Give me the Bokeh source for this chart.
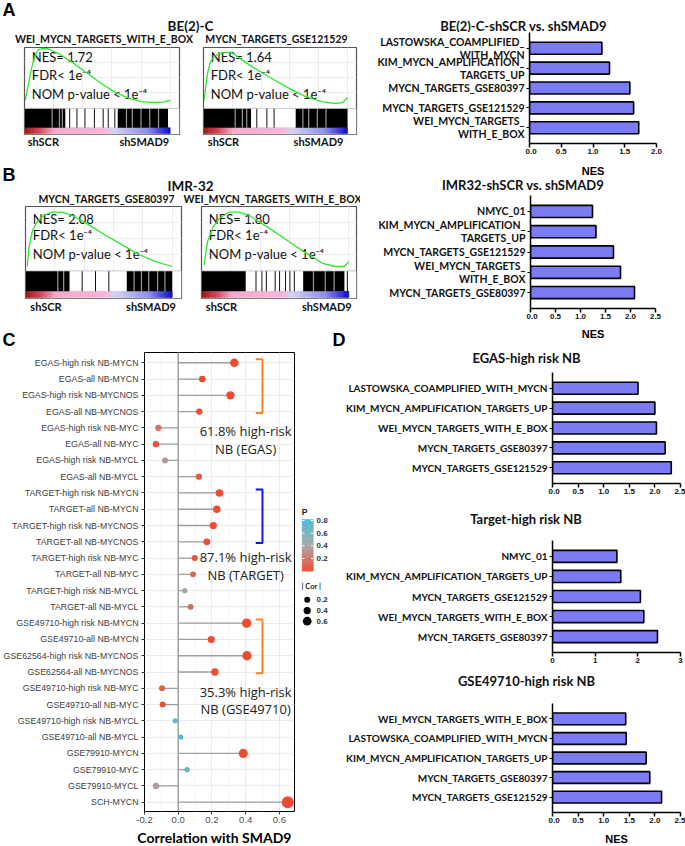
from bokeh.plotting import figure
from bokeh.layouts import row, column
from bokeh.models import (Range1d, FactorRange, FixedTicker, NumeralTickFormatter,
                          LinearColorMapper, ColumnDataSource, Span, LinearInterpolator, Grid)
from bokeh.transform import transform
from bokeh.core.properties import value
from bokeh.embed import file_html
from bokeh.resources import INLINE

# ======================= DATA =======================
PHENO = ["shSCR", "shSMAD9"]

# ---- Panel A : BE(2)-C GSEA ----
A_cell = "BE(2)-C"
A1_set = "WEI_MYCN_TARGETS_WITH_E_BOX"
A1_nes = "1.72"
A1_rank = [0.005, 0.027, 0.05, 0.074, 0.096, 0.13, 0.164, 0.233, 0.324, 0.416, 0.53, 0.621, 0.712, 0.804, 0.895, 0.964, 1.0]
A1_es = [0.05, 0.27, 0.49, 0.66, 0.72, 0.74, 0.73, 0.67, 0.56, 0.43, 0.27, 0.16, 0.08, 0.035, 0.02, 0.03, 0.055]
A1_dense = [(0.0, 0.28), (0.64, 0.985)]
A1_hits = [0.31, 0.36, 0.415, 0.48, 0.54, 0.575, 0.62]
A1_soft = [0.19, 0.24, 0.26, 0.70, 0.74, 0.80, 0.86, 0.92]

A2_set = "MYCN_TARGETS_GSE121529"
A2_nes = "1.64"
A2_rank = [0.004, 0.028, 0.051, 0.086, 0.132, 0.19, 0.317, 0.456, 0.594, 0.71, 0.826, 0.919, 0.965, 1.0]
A2_es = [0.05, 0.41, 0.58, 0.65, 0.68, 0.69, 0.52, 0.36, 0.21, 0.10, 0.03, 0.01, 0.02, 0.09]
A2_dense = [(0.0, 0.33), (0.64, 1.0)]
A2_hits = [0.37, 0.44, 0.49]
A2_soft = [0.22, 0.27, 0.30, 0.69, 0.73, 0.79, 0.85]

A_bar_title = "BE(2)-C-shSCR vs. shSMAD9"
A_bar_sets = ["LASTOWSKA_COAMPLIFIED_\nWITH_MYCN", "KIM_MYCN_AMPLIFICATION_\nTARGETS_UP",
              "MYCN_TARGETS_GSE80397", "MYCN_TARGETS_GSE121529", "WEI_MYCN_TARGETS_\nWITH_E_BOX"]
A_bar_nes = [1.14, 1.26, 1.58, 1.64, 1.72]
A_ticks = [0.0, 0.5, 1.0, 1.5, 2.0]

# ---- Panel B : IMR-32 GSEA ----
B_cell = "IMR-32"
B1_set = "MYCN_TARGETS_GSE80397"
B1_nes = "2.08"
B1_rank = [0.012, 0.023, 0.046, 0.08, 0.125, 0.182, 0.25, 0.318, 0.432, 0.545, 0.659, 0.773, 0.886, 1.0]
B1_es = [0.0, 0.23, 0.44, 0.56, 0.64, 0.68, 0.68, 0.64, 0.52, 0.39, 0.27, 0.15, 0.06, 0.0]
B1_dense = [(0.0, 0.30), (0.69, 1.0)]
B1_hits = [0.386, 0.477, 0.568]
B1_soft = [0.22, 0.26, 0.74, 0.79, 0.84, 0.90, 0.95]

B2_set = "WEI_MYCN_TARGETS_WITH_E_BOX"
B2_nes = "1.80"
B2_rank = [0.018, 0.041, 0.075, 0.12, 0.188, 0.256, 0.323, 0.459, 0.595, 0.708, 0.821, 0.911, 0.968, 1.0]
B2_es = [0.02, 0.31, 0.48, 0.60, 0.68, 0.68, 0.64, 0.48, 0.31, 0.17, 0.04, 0.0, 0.0, 0.06]
B2_dense = [(0.0, 0.30), (0.69, 0.97)]
B2_hits = [0.37, 0.41, 0.44, 0.50, 0.53, 0.57, 0.60, 0.63, 0.99]
B2_soft = [0.76, 0.84, 0.90]

B_bar_title = "IMR32-shSCR vs. shSMAD9"
B_bar_sets = ["NMYC_01", "KIM_MYCN_AMPLIFICATION_\nTARGETS_UP", "MYCN_TARGETS_GSE121529",
              "WEI_MYCN_TARGETS_\nWITH_E_BOX", "MYCN_TARGETS_GSE80397"]
B_bar_nes = [1.24, 1.31, 1.66, 1.80, 2.08]
B_ticks = [0.0, 0.5, 1.0, 1.5, 2.0, 2.5]

# ---- Panel C : correlation with SMAD9 ----
C_labels = ["EGAS-high risk NB-MYCN", "EGAS-all NB-MYCN", "EGAS-high risk NB-MYCNOS", "EGAS-all NB-MYCNOS",
            "EGAS-high risk NB-MYC", "EGAS-all NB-MYC", "EGAS-high risk NB-MYCL", "EGAS-all NB-MYCL",
            "TARGET-high risk NB-MYCN", "TARGET-all NB-MYCN", "TARGET-high risk NB-MYCNOS", "TARGET-all NB-MYCNOS",
            "TARGET-high risk NB-MYC", "TARGET-all NB-MYC", "TARGET-high risk NB-MYCL", "TARGET-all NB-MYCL",
            "GSE49710-high risk NB-MYCN", "GSE49710-all NB-MYCN", "GSE62564-high risk NB-MYCNOS", "GSE62564-all NB-MYCNOS",
            "GSE49710-high risk NB-MYC", "GSE49710-all NB-MYC", "GSE49710-high risk NB-MYCL", "GSE49710-all NB-MYCL",
            "GSE79910-MYCN", "GSE79910-MYC", "GSE79910-MYCL", "SCH-MYCN"]
C_cor = [0.333, 0.143, 0.31, 0.125, -0.118, -0.132, -0.078, 0.123,
         0.245, 0.229, 0.208, 0.17, 0.098, 0.088, 0.039, 0.074,
         0.406, 0.196, 0.408, 0.218, -0.096, -0.092, -0.018, 0.015,
         0.386, 0.053, -0.132, 0.65]
C_p = [0.00, 0.01, 0.00, 0.02, 0.17, 0.05, 0.34, 0.08,
       0.00, 0.00, 0.00, 0.00, 0.04, 0.12, 0.46, 0.18,
       0.00, 0.00, 0.00, 0.00, 0.10, 0.02, 0.72, 0.75,
       0.00, 0.70, 0.38, 0.00]
C_p_ticks = [0.2, 0.4, 0.6, 0.8]
C_cor_legend = [0.2, 0.4, 0.6]
C_x_ticks = [-0.2, 0.0, 0.2, 0.4, 0.6]
C_xlabel = "Correlation with SMAD9"
C_brackets = [(0, 3, "#F5832A"), (8, 11, "#1414EE"), (16, 19, "#F5832A")]
C_notes = [("61.8% high-risk", "NB (EGAS)", 4.17),
           ("87.1% high-risk", "NB (TARGET)", 11.95),
           ("35.3% high-risk", "NB (GSE49710)", 20.2)]

# ---- Panel D ----
D1_title = "EGAS-high risk NB"
D1_sets = ["LASTOWSKA_COAMPLIFIED_WITH_MYCN", "KIM_MYCN_AMPLIFICATION_TARGETS_UP",
           "WEI_MYCN_TARGETS_WITH_E_BOX", "MYCN_TARGETS_GSE80397", "MYCN_TARGETS_GSE121529"]
D1_nes = [1.67, 2.00, 2.03, 2.20, 2.32]
D2_title = "Target-high risk NB"
D2_sets = ["NMYC_01", "KIM_MYCN_AMPLIFICATION_TARGETS_UP", "MYCN_TARGETS_GSE121529",
           "WEI_MYCN_TARGETS_WITH_E_BOX", "MYCN_TARGETS_GSE80397"]
D2_nes = [1.51, 1.60, 2.06, 2.14, 2.46]
D3_title = "GSE49710-high risk NB"
D3_sets = ["WEI_MYCN_TARGETS_WITH_E_BOX", "LASTOWSKA_COAMPLIFIED_WITH_MYCN",
           "KIM_MYCN_AMPLIFICATION_TARGETS_UP", "MYCN_TARGETS_GSE80397", "MYCN_TARGETS_GSE121529"]
D3_nes = [1.43, 1.44, 1.83, 1.90, 2.13]
D_ticks_a = [0.0, 0.5, 1.0, 1.5, 2.0, 2.5]
D_ticks_b = [0, 1, 2, 3]
NES_LABEL = "NES"

# ======================= STYLE =======================
BAR_FILL = "#7B7BF4"
CURVE = "#2EE62E"
Y_LO, Y_HI = -0.40, 0.75
BAR_TOP, CB_TOP = -0.055, -0.31
RANK_STOPS = [(0.0, "#9E1616"), (0.10, "#D2455A"), (0.20, "#F2AACB"), (0.55, "#F5B6D6"),
              (0.62, "#D2D2F2"), (0.85, "#8C8CE6"), (0.95, "#3C3CD8"), (1.0, "#1010C0")]
P_STOPS = [(0.0, "#EE4B30"), (0.5, "#A9A6A8"), (1.0, "#4BBDD9")]
COMMON = dict(output_backend="svg", toolbar_location=None, frame_align=False)


def ramp(stops, n):
    def h2r(h):
        return [int(h[i:i + 2], 16) for i in (1, 3, 5)]
    out = []
    for k in range(n):
        t = k / (n - 1)
        for (t0, c0), (t1, c1) in zip(stops[:-1], stops[1:]):
            if t0 <= t <= t1:
                f = 0 if t1 == t0 else (t - t0) / (t1 - t0)
                a, b = h2r(c0), h2r(c1)
                out.append("#%02x%02x%02x" % tuple(int(round(a[i] + (b[i] - a[i]) * f)) for i in range(3)))
                break
    return out


RANK_COLORS = ramp(RANK_STOPS, 60)
P_PALETTE = ramp(P_STOPS, 64)
p_mapper = LinearColorMapper(palette=P_PALETTE, low=0.0, high=0.82)


def canvas(w, h):
    p = figure(width=w, height=h, x_range=Range1d(0, w), y_range=Range1d(h, 0), min_border=0,
               x_axis_type=None, y_axis_type=None, **COMMON)
    p.outline_line_color = None
    return p


def put(p, x, y, txt, size, font="Lato", bold=True, align="center", baseline="middle", color="#111111"):
    p.text(x=[x], y=[y], text=[txt], text_font=value(font), text_font_size=f"{size}px",
           text_font_style="bold" if bold else "normal", text_align=align, text_baseline=baseline,
           text_color=color)


def gsea_fig(w, h, left, right, xmax, rank, es, dense, hits, soft, nes, text_y):
    p = figure(width=w, height=h, x_range=Range1d(0, xmax), y_range=Range1d(Y_LO, Y_HI),
               min_border_left=left, min_border_right=right, min_border_top=1, min_border_bottom=1,
               x_axis_type=None, y_axis_type=None, **COMMON)
    p.outline_line_color = "#555555"
    p.outline_line_width = 1.2
    p.add_layout(Grid(dimension=0, ticker=FixedTicker(ticks=[0.2, 0.4, 0.6, 0.8, 1.0]), grid_line_color="#ececec"))
    p.add_layout(Grid(dimension=1, ticker=FixedTicker(ticks=[0.15, 0.35, 0.55]), grid_line_color="#ececec"))
    p.quad(left=[0], right=[xmax], bottom=[Y_LO], top=[BAR_TOP], fill_color="white", line_color=None)
    n = len(RANK_COLORS)
    p.quad(left=[i / n for i in range(n)], right=[(i + 1) / n for i in range(n)], top=CB_TOP, bottom=Y_LO + 0.012,
           fill_color=RANK_COLORS, line_color=RANK_COLORS, line_width=0.6)
    p.quad(left=[a for a, b in dense], right=[b for a, b in dense], top=BAR_TOP, bottom=CB_TOP,
           fill_color="black", line_color=None)
    p.segment(x0=hits, x1=hits, y0=BAR_TOP, y1=CB_TOP, line_color="#111111", line_width=1)
    p.segment(x0=soft, x1=soft, y0=BAR_TOP, y1=CB_TOP, line_color="#9a9a9a", line_width=1.2)
    p.segment(x0=[0], x1=[xmax], y0=[BAR_TOP], y1=[BAR_TOP], line_color="#bbbbbb", line_width=0.8)
    lines = [f"NES= {nes}", "FDR< 1e\u207b\u2074", "NOM p-value < 1e\u207b\u2074"]
    p.text(x=[0.05] * 3, y=text_y, text=lines, text_font=value("Lato"), text_font_size="13px",
           text_align="left", text_baseline="middle", text_color="#111111")
    p.line(rank, es, line_color=CURVE, line_width=1.3)
    return p


def bar_block(sets, vals, xmax, ticks, fmt, w, h, labw, right, bottom, lab_size):
    yr = FactorRange(factors=sets[::-1], range_padding=0.29, range_padding_units="absolute")
    # label strip sharing the categorical y scale of the bar chart
    lab = figure(width=labw, height=h, x_range=Range1d(0, labw), y_range=yr, min_border_left=0,
                 min_border_right=0, min_border_top=0, min_border_bottom=bottom,
                 x_axis_type=None, y_axis_type=None, **COMMON)
    lab.outline_line_color = None
    lab.text(x=[labw - 1] * len(sets), y=sets, text=sets, text_font=value("Lato"),
             text_font_size=f"{lab_size}px", text_font_style="bold", text_align="right",
             text_baseline="middle", text_line_height=1.1, text_color="#111111")
    p = figure(width=w - labw, height=h, y_range=yr, x_range=Range1d(0, xmax), min_border_left=4,
               min_border_right=right, min_border_top=0, min_border_bottom=bottom, **COMMON)
    p.hbar(y=sets, right=vals, left=0, height=0.6, fill_color=BAR_FILL, line_color="black", line_width=1.6)
    p.xgrid.visible = False
    p.ygrid.visible = False
    p.outline_line_color = None
    ax = p.xaxis[0]
    ax.ticker = FixedTicker(ticks=ticks)
    ax.formatter = NumeralTickFormatter(format=fmt)
    ax.axis_line_width = 1.5
    ax.major_tick_line_width = 1.5
    ax.major_tick_out = 4
    ax.major_tick_in = 0
    ax.minor_tick_line_color = None
    ax.major_label_text_font = "Liberation Sans"
    ax.major_label_text_font_style = "bold"
    ax.major_label_text_font_size = "8px"
    ax.major_label_standoff = 1
    ax.major_label_text_color = "#111111"
    ay = p.yaxis[0]
    ay.axis_line_width = 1.5
    ay.major_tick_line_width = 1.2
    ay.major_tick_out = 3
    ay.major_tick_in = 0
    ay.major_label_standoff = 0
    ay.major_label_text_font_size = "1px"
    ay.major_label_text_color = None
    return row(lab, p)


# ======================= TOP LEFT (A, B GSEA) =======================
TLW = 360
hdrA = canvas(TLW, 46)
put(hdrA, 2, -1, "A", 18, font="Liberation Sans", align="left", baseline="top", color="black")
put(hdrA, 190, 25, A_cell, 13.5)
put(hdrA, 103.5, 38.5, A1_set, 10.5)
put(hdrA, 276, 38.5, A2_set, 10.5)

gA1 = gsea_fig(190, 89, 24, 11, 1.064, A1_rank, A1_es, A1_dense, A1_hits, A1_soft, A1_nes, [0.62, 0.38, 0.14])
gA2 = gsea_fig(170, 89, 13, 4, 1.062, A2_rank, A2_es, A2_dense, A2_hits, A2_soft, A2_nes, [0.62, 0.38, 0.14])

hdrB = canvas(TLW, 70)
for xx, t in zip([42.8, 143.8, 223, 318], PHENO * 2):
    put(hdrB, xx, 6, t, 11)
put(hdrB, 2, 29, "B", 18, font="Liberation Sans", align="left", baseline="top", color="black")
put(hdrB, 190, 50, B_cell, 13.5)
put(hdrB, 106, 63.5, B1_set, 10.5)
put(hdrB, 272, 63.5, B2_set, 10.5)

gB1 = gsea_fig(190, 94, 25, 9, 1.063, B1_rank, B1_es, B1_dense, B1_hits, B1_soft, B1_nes, [0.60, 0.40, 0.16])
gB2 = gsea_fig(170, 94, 11, 4, 1.052, B2_rank, B2_es, B2_dense, B2_hits, B2_soft, B2_nes, [0.60, 0.40, 0.16])

hdrCa = canvas(TLW, 25)
for xx, t in zip([45.5, 150.5, 221, 326.3], PHENO * 2):
    put(hdrCa, xx, 7, t, 11)

top_left = column(hdrA, row(gA1, gA2), hdrB, row(gB1, gB2), hdrCa)

# ======================= TOP RIGHT (A, B bars) =======================
TRW = 325
hdrAr = canvas(TRW, 32)
put(hdrAr, 163, 25, A_bar_title, 13)
barA = bar_block(A_bar_sets, A_bar_nes, 2.0, A_ticks, "0.0", TRW, 130, 165, 29, 19, 10.5)
hdrBr = canvas(TRW, 33)
put(hdrBr, 232.5, 8, NES_LABEL, 11, font="Liberation Sans", color="black")
put(hdrBr, 162.5, 22, B_bar_title, 13)
barB = bar_block(B_bar_sets, B_bar_nes, 2.5, B_ticks, "0.0", TRW, 129, 166, 30, 16, 10.5)

top_right = column(hdrAr, barA, hdrBr, barB)

# ======================= BOTTOM LEFT (C) =======================
BLW = 345
hdrCb = canvas(BLW, 27)
put(hdrCb, 2, 15, "C", 18, font="Liberation Sans", align="left", color="black")
put(hdrCb, 332, 15, "D", 18, font="Liberation Sans", align="left", color="black")

n = len(C_labels)
CH = 477
src = ColumnDataSource(dict(idx=list(range(n)), cor=C_cor, p=C_p, acor=[abs(v) for v in C_cor]))
cm = figure(width=298, height=CH, x_range=Range1d(-0.2, 0.69), y_range=Range1d(n - 1 + 0.57, -0.63),
            min_border_left=144, min_border_right=4, min_border_top=1, min_border_bottom=17, **COMMON)
cm.outline_line_color = "black"
cm.outline_line_width = 1
xa = cm.xaxis[0]
xa.ticker = FixedTicker(ticks=C_x_ticks, minor_ticks=[-0.1, 0.1, 0.3, 0.5])
xa.formatter = NumeralTickFormatter(format="0.0")
xa.axis_line_color = None
xa.major_tick_out = 3
xa.major_tick_in = 0
xa.major_tick_line_color = "#333333"
xa.minor_tick_line_color = None
xa.major_label_text_font = "Liberation Sans"
xa.major_label_text_font_size = "9.5px"
xa.major_label_text_color = "#4d4d4d"
xa.major_label_standoff = 1
ya = cm.yaxis[0]
ya.ticker = FixedTicker(ticks=list(range(n)))
ya.major_label_overrides = {i: lab for i, lab in enumerate(C_labels)}
ya.axis_line_color = None
ya.major_tick_out = 3
ya.major_tick_in = 0
ya.major_tick_line_color = "#333333"
ya.minor_tick_line_color = None
ya.major_label_text_font = "Liberation Sans"
ya.major_label_text_font_size = "8.8px"
ya.major_label_text_color = "#404040"
ya.major_label_standoff = 3
cm.xgrid.grid_line_color = "#EBEBEB"
cm.xgrid.minor_grid_line_color = "#F3F3F3"
cm.ygrid.grid_line_color = "#EBEBEB"
zero = Span(location=0, dimension="height", line_color="#a6a6a6", line_width=1.6, level="underlay")
cm.add_layout(zero)
cm.segment(x0=0, y0="idx", x1="cor", y1="idx", source=src, line_color="#9e9e9e", line_width=1.3)
size_map = LinearInterpolator(x=[0, 0.65], y=[5, 12])
cm.scatter(x="cor", y="idx", source=src, size=transform("acor", size_map),
           fill_color=transform("p", p_mapper), line_color=None)
BX0, BX1 = 0.46, 0.50
for i0, i1, col in C_brackets:
    cm.line([BX0, BX1, BX1, BX0], [i0 - 0.22, i0 - 0.22, i1 + 0.08, i1 + 0.08], line_color=col, line_width=2)
for l1, l2, yy in C_notes:
    cm.text(x=[0.40, 0.40], y=[yy, yy + 1.1], text=[l1, l2], text_font=value("Open Sans"),
            text_font_size="13px", text_align="center", text_baseline="middle", text_color="#222222")

# legend strip: y in P units (P = 0.816 at 168 px below its top, 63.3 px per unit)
P_TOP_PX, P_PX = 168, 63.3
cl = figure(width=BLW - 298, height=CH, x_range=Range1d(0, BLW - 298),
            y_range=Range1d(0.816 - (CH - P_TOP_PX) / P_PX, 0.816 + P_TOP_PX / P_PX),
            min_border=0, x_axis_type=None, y_axis_type=None, **COMMON)
cl.outline_line_color = None
NS = 60
PTOP = 0.816
lsrc = ColumnDataSource(dict(b=[PTOP * k / NS for k in range(NS)], t=[PTOP * (k + 1) / NS for k in range(NS)],
                             m=[PTOP * (k + 0.5) / NS for k in range(NS)]))
cl.quad(left=3.7, right=14.7, bottom="b", top="t", source=lsrc, fill_color=transform("m", p_mapper),
        line_color=transform("m", p_mapper), line_width=0.5)
cl.segment(x0=[3.7] * 4, x1=[5.9] * 4, y0=C_p_ticks, y1=C_p_ticks, line_color="white", line_width=1)
cl.segment(x0=[12.5] * 4, x1=[14.7] * 4, y0=C_p_ticks, y1=C_p_ticks, line_color="white", line_width=1)
cl.text(x=[18] * 4, y=C_p_ticks, text=[f"{v:.1f}" for v in C_p_ticks], text_font=value("Liberation Sans"),
        text_font_size="8px", text_font_style="bold", text_baseline="middle", text_color="#333333")
put(cl, 3.2, 0.93, "P", 8.5, font="Liberation Sans", align="left", color="#222222")
put(cl, 3.0, -0.238, "| Cor |", 7.5, font="Lato", align="left", color="#222222")
leg_y = [-0.453, -0.622, -0.791]
cl.scatter(x=[8.7] * 3, y=leg_y, size=[6, 7.3, 8.7], fill_color="black", line_color=None)
cl.text(x=[18] * 3, y=leg_y, text=[f"{v:.1f}" for v in C_cor_legend], text_font=value("Liberation Sans"),
        text_font_size="8px", text_font_style="bold", text_baseline="middle", text_color="#333333")

footC = canvas(BLW, 18)
put(footC, 214, 9, C_xlabel, 14, color="black")

bottom_left = column(hdrCb, row(cm, cl), footC)

# ======================= BOTTOM RIGHT (D) =======================
BRW = 340
hdrD1 = canvas(BRW, 48)
put(hdrD1, 247.5, 9, NES_LABEL, 11, font="Liberation Sans", color="black")
put(hdrD1, 181, 33, D1_title, 13)
barD1 = bar_block(D1_sets, D1_nes, 2.5, D_ticks_a, "0.0", BRW, 128, 203, 5, 17, 10)
hdrD2 = canvas(BRW, 40)
put(hdrD2, 180.5, 18, D2_title, 13)
barD2 = bar_block(D2_sets, D2_nes, 3, D_ticks_b, "0", BRW, 128, 203, 5, 16, 10)
hdrD3 = canvas(BRW, 35)
put(hdrD3, 181, 12, D3_title, 13)
barD3 = bar_block(D3_sets, D3_nes, 2.5, D_ticks_a, "0.0", BRW, 128, 203, 5, 19, 10)
footD3 = canvas(BRW, 15)
put(footD3, 271, 7.5, NES_LABEL, 11, font="Liberation Sans", color="black")

bottom_right = column(hdrD1, barD1, hdrD2, barD2, hdrD3, barD3, footD3)

layout = column(row(top_left, top_right), row(bottom_left, bottom_right))
open("out.html", "w").write(file_html(layout, INLINE))
